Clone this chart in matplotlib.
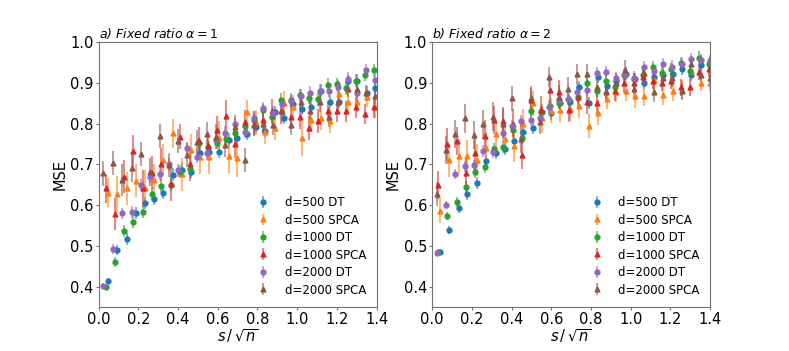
import matplotlib
matplotlib.use("Agg")
import matplotlib.pyplot as plt

labels = ["d=500 DT", "d=500 SPCA", "d=1000 DT", "d=1000 SPCA", "d=2000 DT", "d=2000 SPCA"]
colors = ["tab:blue", "tab:orange", "tab:green", "tab:red", "tab:purple", "tab:brown"]
markers = ["o", "^", "o", "^", "o", "^"]

# ---------- panel a) alpha = 1 ----------
a_x500 = [0.049, 0.094, 0.141, 0.188, 0.234, 0.279, 0.326, 0.374, 0.420, 0.466, 0.511, 0.558, 0.605, 0.655, 0.698,
          0.745, 0.791, 0.838, 0.886, 0.932, 0.978, 1.023, 1.071, 1.118, 1.163, 1.210, 1.255, 1.303, 1.352, 1.394]
a_x1000 = [0.035, 0.082, 0.128, 0.175, 0.222, 0.269, 0.316, 0.364, 0.410, 0.458, 0.505, 0.550, 0.596, 0.643, 0.688,
           0.735, 0.782, 0.828, 0.875, 0.920, 0.968, 1.014, 1.060, 1.107, 1.154, 1.200, 1.247, 1.294, 1.340, 1.386]
a_x2000 = [0.024, 0.071, 0.119, 0.167, 0.214, 0.260, 0.308, 0.355, 0.402, 0.447, 0.496, 0.545, 0.590, 0.638, 0.685,
           0.737, 0.785, 0.830, 0.877, 0.922, 0.970, 1.018, 1.067, 1.114, 1.162, 1.208, 1.255, 1.303, 1.348, 1.394]

a_dt500 = [0.415, 0.490, 0.517, 0.580, 0.605, 0.616, 0.630, 0.675, 0.687, 0.682, 0.729, 0.730, 0.731, 0.760, 0.764,
           0.775, 0.792, 0.783, 0.828, 0.815, 0.848, 0.837, 0.840, 0.881, 0.854, 0.854, 0.904, 0.905, 0.876, 0.887]
a_sp500 = [0.631, 0.627, 0.641, 0.660, 0.641, 0.662, 0.712, 0.776, 0.676, 0.735, 0.717, 0.717, 0.766, 0.720, 0.715,
           0.828, 0.803, 0.780, 0.790, 0.850, 0.840, 0.765, 0.810, 0.814, 0.806, 0.873, 0.853, 0.853, 0.865, 0.840]
a_dt1000 = [0.400, 0.461, 0.537, 0.560, 0.583, 0.627, 0.647, 0.650, 0.682, 0.690, 0.752, 0.742, 0.753, 0.763, 0.776,
            0.794, 0.810, 0.833, 0.817, 0.858, 0.858, 0.870, 0.864, 0.860, 0.895, 0.897, 0.887, 0.905, 0.920, 0.931]
a_sp1000 = [0.641, 0.578, 0.670, 0.733, 0.641, 0.680, 0.700, 0.651, 0.768, 0.700, 0.757, 0.745, 0.784, 0.818, 0.751,
            0.803, 0.800, 0.810, 0.830, 0.830, 0.817, 0.817, 0.790, 0.806, 0.830, 0.830, 0.830, 0.840, 0.824, 0.840]
a_dt2000 = [0.402, 0.493, 0.580, 0.583, 0.650, 0.670, 0.676, 0.700, 0.686, 0.740, 0.719, 0.727, 0.760, 0.778, 0.799,
            0.780, 0.815, 0.838, 0.827, 0.847, 0.855, 0.868, 0.876, 0.881, 0.881, 0.890, 0.910, 0.874, 0.931, 0.907]
a_sp2000 = [0.678, 0.704, 0.662, 0.692, 0.725, 0.681, 0.770, 0.699, 0.757, 0.723, 0.755, 0.774, 0.768, 0.748, 0.791,
            0.711, 0.797, 0.800, 0.797, 0.830, 0.797, 0.853, 0.830, 0.853, 0.816, 0.853, 0.886, 0.886, 0.876, 0.868]

a_edt = [0.006, 0.012, 0.014, 0.015, 0.015, 0.015, 0.015, 0.016, 0.016, 0.016, 0.016, 0.016, 0.016, 0.016, 0.016,
         0.016, 0.016, 0.016, 0.016, 0.016, 0.016, 0.016, 0.016, 0.016, 0.016, 0.016, 0.016, 0.016, 0.016, 0.016]
a_esp500 = [0.035, 0.045, 0.040, 0.040, 0.045, 0.040, 0.038, 0.035, 0.040, 0.040, 0.040, 0.040, 0.040, 0.040, 0.045,
            0.030, 0.030, 0.030, 0.030, 0.030, 0.030, 0.045, 0.030, 0.030, 0.030, 0.025, 0.025, 0.025, 0.025, 0.025]
a_esp1000 = [0.035, 0.040, 0.040, 0.040, 0.045, 0.040, 0.040, 0.040, 0.030, 0.040, 0.035, 0.035, 0.035, 0.040, 0.035,
             0.030, 0.030, 0.030, 0.030, 0.030, 0.030, 0.030, 0.030, 0.030, 0.025, 0.025, 0.025, 0.025, 0.025, 0.025]
a_esp2000 = [0.030, 0.030, 0.040, 0.035, 0.030, 0.035, 0.030, 0.030, 0.030, 0.030, 0.030, 0.030, 0.030, 0.030, 0.030,
             0.030, 0.025, 0.025, 0.025, 0.025, 0.025, 0.025, 0.025, 0.025, 0.025, 0.025, 0.020, 0.020, 0.020, 0.020]

# ---------- panel b) alpha = 2 ----------
b_x500 = [0.039, 0.086, 0.133, 0.178, 0.226, 0.273, 0.320, 0.367, 0.414, 0.460, 0.507, 0.554, 0.601, 0.646, 0.695,
          0.741, 0.788, 0.833, 0.880, 0.928, 0.975, 1.020, 1.069, 1.116, 1.163, 1.212, 1.258, 1.305, 1.352, 1.397]
b_x1000 = [0.030, 0.077, 0.123, 0.170, 0.217, 0.264, 0.311, 0.359, 0.406, 0.453, 0.500, 0.547, 0.594, 0.641, 0.688,
           0.735, 0.782, 0.828, 0.875, 0.922, 0.968, 1.016, 1.063, 1.110, 1.157, 1.204, 1.251, 1.298, 1.345, 1.392]
b_x2000 = [0.022, 0.069, 0.116, 0.163, 0.210, 0.258, 0.305, 0.355, 0.402, 0.450, 0.496, 0.544, 0.591, 0.638, 0.685,
           0.732, 0.780, 0.830, 0.877, 0.924, 0.970, 1.018, 1.066, 1.116, 1.163, 1.210, 1.258, 1.305, 1.352, 1.397]

b_dt500 = [0.486, 0.539, 0.592, 0.627, 0.654, 0.708, 0.729, 0.737, 0.757, 0.780, 0.790, 0.829, 0.825, 0.850, 0.854,
           0.890, 0.850, 0.915, 0.893, 0.905, 0.923, 0.910, 0.900, 0.915, 0.920, 0.923, 0.935, 0.920, 0.944, 0.950]
b_sp500 = [0.587, 0.710, 0.720, 0.721, 0.711, 0.740, 0.775, 0.762, 0.745, 0.800, 0.850, 0.813, 0.832, 0.833, 0.836,
           0.843, 0.794, 0.827, 0.860, 0.877, 0.880, 0.868, 0.868, 0.907, 0.870, 0.880, 0.882, 0.930, 0.899, 0.900]
b_dt1000 = [0.484, 0.574, 0.607, 0.645, 0.681, 0.693, 0.738, 0.743, 0.784, 0.766, 0.832, 0.829, 0.843, 0.850, 0.858,
            0.866, 0.900, 0.880, 0.905, 0.890, 0.919, 0.909, 0.920, 0.938, 0.925, 0.935, 0.948, 0.929, 0.962, 0.946]
b_sp1000 = [0.650, 0.749, 0.757, 0.680, 0.727, 0.770, 0.809, 0.806, 0.800, 0.723, 0.858, 0.833, 0.882, 0.878, 0.833,
            0.865, 0.854, 0.851, 0.878, 0.880, 0.899, 0.899, 0.915, 0.905, 0.900, 0.905, 0.889, 0.889, 0.927, 0.935]
b_dt2000 = [0.482, 0.601, 0.676, 0.695, 0.698, 0.733, 0.730, 0.776, 0.794, 0.807, 0.810, 0.815, 0.841, 0.858, 0.860,
            0.878, 0.882, 0.925, 0.927, 0.911, 0.920, 0.913, 0.938, 0.930, 0.946, 0.940, 0.946, 0.958, 0.955, 0.954]
b_sp2000 = [0.627, 0.735, 0.775, 0.813, 0.772, 0.798, 0.817, 0.800, 0.862, 0.762, 0.862, 0.805, 0.915, 0.866, 0.884,
            0.921, 0.921, 0.890, 0.880, 0.899, 0.931, 0.884, 0.925, 0.878, 0.912, 0.911, 0.880, 0.946, 0.919, 0.913]

b_edt = [0.006, 0.010, 0.012, 0.014, 0.014, 0.014, 0.015, 0.015, 0.015, 0.015, 0.015, 0.015, 0.015, 0.015, 0.015,
         0.015, 0.015, 0.015, 0.015, 0.015, 0.015, 0.015, 0.015, 0.015, 0.015, 0.015, 0.015, 0.015, 0.015, 0.015]
b_esp500 = [0.030, 0.040, 0.040, 0.040, 0.040, 0.040, 0.035, 0.035, 0.040, 0.035, 0.030, 0.035, 0.030, 0.030, 0.030,
            0.030, 0.030, 0.030, 0.025, 0.025, 0.025, 0.030, 0.025, 0.025, 0.025, 0.025, 0.025, 0.020, 0.020, 0.020]
b_esp1000 = [0.035, 0.040, 0.035, 0.040, 0.040, 0.040, 0.035, 0.035, 0.035, 0.035, 0.030, 0.035, 0.030, 0.030, 0.030,
             0.030, 0.030, 0.030, 0.025, 0.025, 0.025, 0.025, 0.020, 0.020, 0.020, 0.020, 0.020, 0.020, 0.020, 0.020]
b_esp2000 = [0.030, 0.035, 0.035, 0.035, 0.035, 0.035, 0.035, 0.035, 0.030, 0.035, 0.030, 0.030, 0.025, 0.030, 0.030,
             0.025, 0.025, 0.025, 0.025, 0.025, 0.025, 0.025, 0.020, 0.025, 0.020, 0.020, 0.020, 0.020, 0.020, 0.020]

panels = [
    ("a) Fixed ratio $\\alpha=1$",
     [(a_x500, a_dt500, a_edt), (a_x500, a_sp500, a_esp500), (a_x1000, a_dt1000, a_edt),
      (a_x1000, a_sp1000, a_esp1000), (a_x2000, a_dt2000, a_edt), (a_x2000, a_sp2000, a_esp2000)]),
    ("b) Fixed ratio $\\alpha=2$",
     [(b_x500, b_dt500, b_edt), (b_x500, b_sp500, b_esp500), (b_x1000, b_dt1000, b_edt),
      (b_x1000, b_sp1000, b_esp1000), (b_x2000, b_dt2000, b_edt), (b_x2000, b_sp2000, b_esp2000)]),
]

fig, axes = plt.subplots(1, 2, figsize=(7.89, 3.51), dpi=100)
fig.subplots_adjust(left=0.125, right=0.9, bottom=0.125, top=0.88, wspace=0.2)
for ax, (title, series) in zip(axes, panels):
    for (x, y, e), lab, c, m in zip(series, labels, colors, markers):
        cont = ax.errorbar(x, y, yerr=e, fmt=m, color=c, ms=3.5, elinewidth=1.5, capsize=0, label=lab)
        for lc in cont[2]:
            lc.set_alpha(0.55)
    ax.set_xlim(0, 1.4)
    ax.set_ylim(0.35, 1.0)
    ax.set_xticks([0.0, 0.2, 0.4, 0.6, 0.8, 1.0, 1.2, 1.4])
    ax.set_yticks([0.4, 0.5, 0.6, 0.7, 0.8, 0.9, 1.0])
    ax.tick_params(length=2.5, pad=1.2, labelsize=10.5, color="0.45")
    ax.set_xlabel(r"$s\,/\,\sqrt{n}$", fontsize=10.5, labelpad=0)
    ax.set_ylabel("MSE", fontsize=10.5, labelpad=2)
    ax.set_title(title, loc="left", style="italic", fontsize=9, pad=3)
    for sp in ax.spines.values():
        sp.set_color("0.45")
    ax.legend(loc="lower right", frameon=False, fontsize=8.5, borderaxespad=0.5, labelspacing=0.38)

fig.savefig("out.png", dpi=100)
